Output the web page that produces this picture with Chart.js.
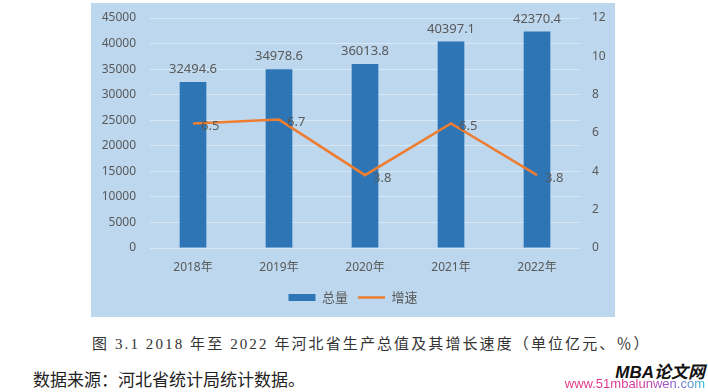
<!DOCTYPE html>
<html>
<head>
<meta charset="utf-8">
<script src="https://cdn.jsdelivr.net/npm/chart.js@4.4.0/dist/chart.umd.min.js"></script>
<style>
  body { margin: 0; width: 708px; height: 392px; background: #fff; position: relative; overflow: hidden; }
  #panel { position: absolute; left: 91px; top: 3px; width: 524px; height: 314px; background: #BDD7EE; }
  #caption { position: absolute; left: 92px; top: 332px; white-space: nowrap; font: 15px "Liberation Serif", "Noto Sans CJK SC"; letter-spacing: 2.1px; color: #333; }
  #source { position: absolute; left: 33px; top: 366px; white-space: nowrap; font: 17px "Noto Sans CJK SC"; color: #222; }
  #mark1 { position: absolute; right: 3px; top: 358px; font: italic bold 17px "Liberation Sans", "Noto Sans CJK SC"; color: #111; }
  #mark2 { position: absolute; right: 3px; top: 376px; font: 13px "Liberation Sans"; background: linear-gradient(90deg, #e8307f 0%, #d23a9c 55%, #8a60d0 78%, #30b8d8 100%); -webkit-background-clip: text; background-clip: text; color: transparent; }
</style>
</head>
<body>
<div id="panel"><canvas id="myChart" width="524" height="314"></canvas></div>
<div id="caption">图 3.1 2018 年至 2022 年河北省生产总值及其增长速度（单位亿元、％）</div>
<div id="source">数据来源：河北省统计局统计数据。</div>
<div id="mark1">MBA论文网</div>
<div id="mark2">www.51mbalunwen.com</div>
<script>
const years = ['2018年', '2019年', '2020年', '2021年', '2022年'];
const total = [32494.6, 34978.6, 36013.8, 40397.1, 42370.4];
const growth = [6.5, 6.7, 3.8, 6.5, 3.8];

const textColor = '#595959';

// value labels (no datalabels plugin available)
const valueLabels = {
    id: 'valueLabels',
    afterDatasetsDraw(chart) {
        const ctx = chart.ctx;
        ctx.save();
        ctx.font = '13px "Noto Sans"';
        ctx.fillStyle = textColor;
        chart.getDatasetMeta(0).data.forEach((bar, i) => {
            ctx.textAlign = 'center';
            ctx.textBaseline = 'bottom';
            ctx.fillText(total[i], bar.x, bar.y - 6);
        });
        chart.getDatasetMeta(1).data.forEach((pt, i) => {
            ctx.textAlign = 'left';
            ctx.textBaseline = 'middle';
            ctx.fillText(growth[i].toFixed(1), pt.x + 8, pt.y + 3);
        });
        ctx.restore();
    }
};

const ctx = document.getElementById('myChart');

new Chart(ctx, {
    data: {
        labels: years,
        datasets: [{
            type: 'bar',
            label: '总量',
            data: total,
            backgroundColor: '#2E75B6',
            barPercentage: 0.31,
            categoryPercentage: 1,
            pointStyle: 'rect',
            yAxisID: 'y',
            order: 2
        }, {
            type: 'line',
            label: '增速',
            data: growth,
            borderColor: '#ED7D31',
            backgroundColor: '#ED7D31',
            borderWidth: 2.5,
            pointRadius: 0,
            pointStyle: 'line',
            tension: 0,
            yAxisID: 'y1',
            order: 1
        }]
    },
    options: {
        responsive: false,
        animation: false,
        layout: { padding: { top: 15, right: 0, left: 0, bottom: 3 } },
        plugins: {
            legend: {
                position: 'bottom',
                labels: {
                    usePointStyle: true,
                    pointStyleWidth: 27,
                    boxHeight: 7,
                    padding: 10,
                    color: textColor,
                    font: { size: 13, family: '"Noto Sans CJK SC"' },
                    sort: (a, b) => a.datasetIndex - b.datasetIndex
                }
            },
            tooltip: { enabled: false }
        },
        scales: {
            x: {
                grid: { display: false, drawTicks: false },
                border: { display: false },
                ticks: { color: textColor, font: { size: 12, family: '"Noto Sans", "Noto Sans CJK SC"' }, padding: 12 },
                afterFit(scale) { scale.height = 33; }
            },
            y: {
                position: 'left',
                min: 0,
                max: 45000,
                ticks: { stepSize: 5000, color: textColor, font: { size: 12, family: '"Noto Sans"' }, padding: 0, callback: v => String(v) },
                grid: { color: 'rgba(225,236,248,0.75)', tickLength: 14, tickColor: 'transparent' },
                border: { display: false },
                afterFit(scale) { scale.width = 59; }
            },
            y1: {
                position: 'right',
                min: 0,
                max: 12,
                ticks: { stepSize: 2, color: textColor, font: { size: 12, family: '"Noto Sans"' }, padding: 0 },
                grid: { drawOnChartArea: false, color: 'transparent', tickLength: 12, tickColor: 'transparent' },
                border: { display: false },
                afterFit(scale) { scale.width = 35; }
            }
        }
    },
    plugins: [valueLabels]
});
</script>
</body>
</html>
